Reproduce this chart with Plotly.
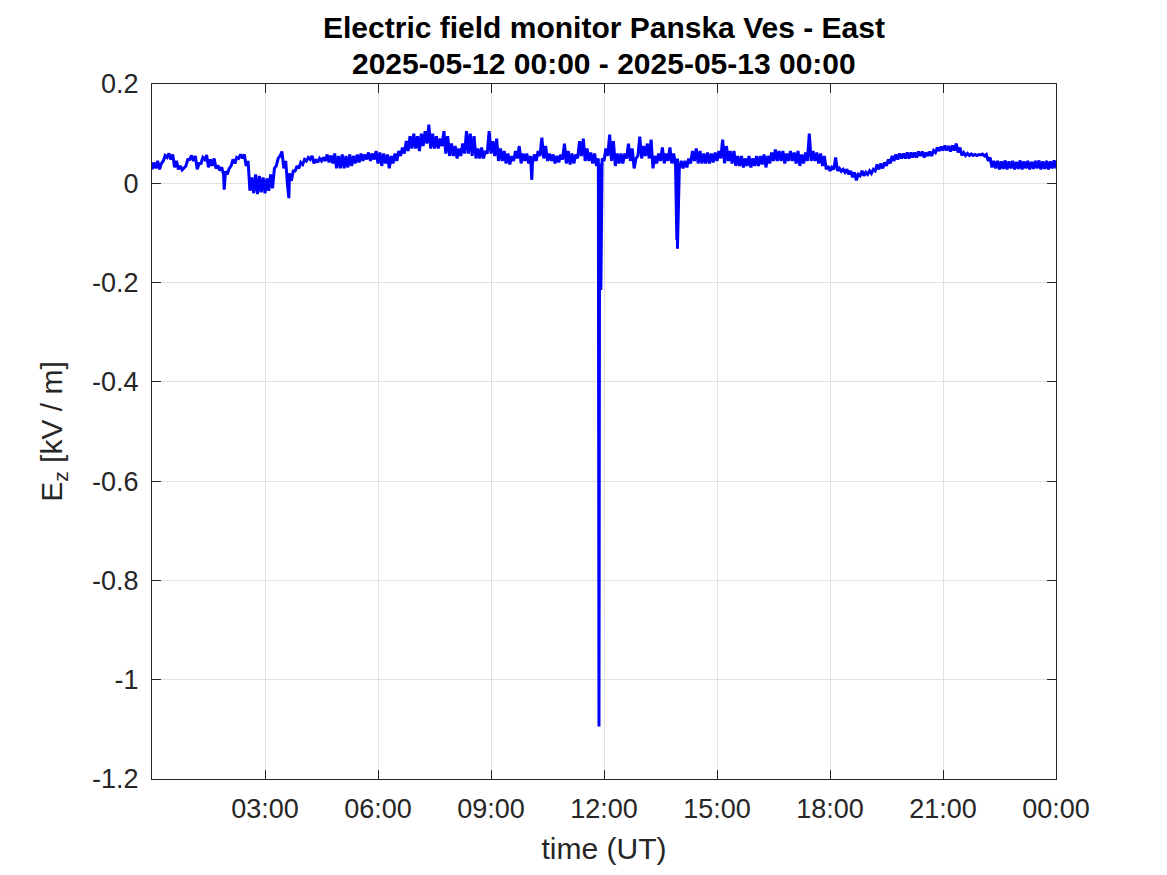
import pandas as pd
import plotly.graph_objects as go

# Field record 2025-05-12, one row per hour, 6-minute samples.
# Each sample is given as its low and high value within the 6 minutes (kV/m).
START = "2025-05-12 00:00"
STEP_MIN = 6
EZ_LO = [
    0.028, 0.030, 0.028, 0.045, 0.052, 0.048, 0.032, 0.028, 0.027, 0.035,   # 00h
    0.048, 0.045, 0.028, 0.040, 0.048, 0.032, 0.035, 0.030, 0.026, 0.018,   # 01h
    0.018, 0.035, 0.040, 0.050, 0.050, 0.035, -0.015, -0.020, -0.022, -0.018,  # 02h
    -0.020, -0.015, -0.010, 0.035, 0.055, 0.030, -0.005, 0.005, 0.025, 0.030,  # 03h
    0.038, 0.045, 0.048, 0.040, 0.042, 0.045, 0.045, 0.042, 0.040, 0.030,   # 04h
    0.030, 0.030, 0.032, 0.035, 0.040, 0.042, 0.045, 0.048, 0.045, 0.048,   # 05h
    0.040, 0.035, 0.040, 0.030, 0.040, 0.045, 0.055, 0.060, 0.065, 0.070,   # 06h
    0.070, 0.065, 0.075, 0.080, 0.070, 0.070, 0.070, 0.075, 0.060, 0.055,   # 07h
    0.055, 0.050, 0.055, 0.060, 0.060, 0.055, 0.050, 0.050, 0.050, 0.060,   # 08h
    0.060, 0.055, 0.045, 0.045, 0.040, 0.038, 0.045, 0.050, 0.040, 0.045,   # 09h
    0.040, 0.040, 0.045, 0.055, 0.050, 0.045, 0.045, 0.040, 0.042, 0.048,   # 10h
    0.040, 0.038, 0.040, 0.050, 0.055, 0.045, 0.045, 0.040, 0.035, 0.030,   # 11h
    0.045, 0.055, 0.045, 0.035, 0.040, 0.040, 0.050, 0.045, 0.030, 0.055,   # 12h
    0.050, 0.055, 0.050, 0.030, 0.040, 0.045, 0.040, 0.045, 0.040, 0.035,   # 13h
    0.030, 0.030, 0.032, 0.040, 0.045, 0.040, 0.040, 0.040, 0.040, 0.042,   # 14h
    0.045, 0.050, 0.040, 0.045, 0.040, 0.035, 0.035, 0.032, 0.035, 0.032,   # 15h
    0.035, 0.035, 0.038, 0.032, 0.040, 0.045, 0.045, 0.045, 0.040, 0.045,   # 16h
    0.045, 0.040, 0.035, 0.040, 0.045, 0.045, 0.045, 0.040, 0.035, 0.028,   # 17h
    0.025, 0.028, 0.025, 0.024, 0.022, 0.018, 0.012, 0.006, 0.015, 0.015,   # 18h
    0.018, 0.020, 0.025, 0.028, 0.030, 0.035, 0.040, 0.045, 0.048, 0.050,   # 19h
    0.050, 0.050, 0.052, 0.052, 0.055, 0.052, 0.055, 0.055, 0.062, 0.065,   # 20h
    0.066, 0.066, 0.064, 0.066, 0.062, 0.056, 0.056, 0.056, 0.056, 0.056,   # 21h
    0.057, 0.055, 0.045, 0.032, 0.030, 0.028, 0.029, 0.028, 0.030, 0.028,   # 22h
    0.029, 0.028, 0.030, 0.028, 0.029, 0.030, 0.028, 0.029, 0.028, 0.030,   # 23h
    0.030,                                                                   # 24h
]
EZ_HI = [
    0.042, 0.045, 0.040, 0.056, 0.060, 0.058, 0.045, 0.035, 0.032, 0.048,   # 00h
    0.056, 0.055, 0.040, 0.052, 0.057, 0.048, 0.050, 0.036, 0.032, 0.024,   # 01h
    0.030, 0.048, 0.052, 0.058, 0.058, 0.045, 0.012, 0.018, 0.015, 0.012,   # 02h
    0.010, 0.018, 0.030, 0.050, 0.064, 0.045, 0.020, 0.025, 0.035, 0.042,   # 03h
    0.048, 0.052, 0.055, 0.048, 0.050, 0.052, 0.058, 0.056, 0.060, 0.055,   # 04h
    0.058, 0.055, 0.058, 0.055, 0.058, 0.060, 0.058, 0.062, 0.060, 0.065,   # 05h
    0.062, 0.060, 0.058, 0.055, 0.060, 0.065, 0.072, 0.085, 0.095, 0.100,   # 06h
    0.095, 0.100, 0.105, 0.118, 0.100, 0.095, 0.090, 0.105, 0.095, 0.080,   # 07h
    0.075, 0.070, 0.080, 0.105, 0.100, 0.095, 0.070, 0.072, 0.065, 0.105,   # 08h
    0.085, 0.090, 0.070, 0.065, 0.060, 0.055, 0.065, 0.075, 0.060, 0.060,   # 09h
    0.055, 0.058, 0.065, 0.092, 0.075, 0.060, 0.058, 0.055, 0.058, 0.080,   # 10h
    0.065, 0.060, 0.058, 0.085, 0.090, 0.070, 0.062, 0.060, 0.050, 0.050,   # 11h
    0.070, 0.098, 0.085, 0.060, 0.060, 0.060, 0.080, 0.070, 0.050, 0.094,   # 12h
    0.075, 0.080, 0.088, 0.055, 0.060, 0.072, 0.060, 0.072, 0.060, 0.050,   # 13h
    0.045, 0.045, 0.050, 0.065, 0.070, 0.065, 0.060, 0.062, 0.060, 0.062,   # 14h
    0.065, 0.088, 0.075, 0.065, 0.065, 0.055, 0.055, 0.050, 0.055, 0.050,   # 15h
    0.055, 0.055, 0.058, 0.055, 0.062, 0.068, 0.065, 0.065, 0.060, 0.065,   # 16h
    0.062, 0.065, 0.058, 0.062, 0.100, 0.065, 0.062, 0.060, 0.055, 0.035,   # 17h
    0.032, 0.052, 0.030, 0.028, 0.028, 0.025, 0.022, 0.018, 0.025, 0.022,   # 18h
    0.025, 0.028, 0.038, 0.040, 0.042, 0.048, 0.055, 0.058, 0.060, 0.060,   # 19h
    0.062, 0.062, 0.062, 0.064, 0.064, 0.062, 0.064, 0.066, 0.072, 0.074,   # 20h
    0.076, 0.075, 0.076, 0.080, 0.072, 0.062, 0.060, 0.059, 0.058, 0.058,   # 21h
    0.059, 0.058, 0.052, 0.045, 0.045, 0.044, 0.046, 0.044, 0.045, 0.043,   # 22h
    0.046, 0.044, 0.045, 0.043, 0.045, 0.046, 0.044, 0.045, 0.044, 0.046,   # 23h
    0.046,                                                                   # 24h
]

# Short transient excursions (time, kV/m)
SPIKE_TIMES = ["2025-05-12 01:55", "2025-05-12 03:38", "2025-05-12 10:05",
               "2025-05-12 11:52", "2025-05-12 11:53", "2025-05-12 11:55",
               "2025-05-12 11:56", "2025-05-12 13:56", "2025-05-12 13:57"]
SPIKE_VALUES = [-0.013, -0.030, 0.007,
                -1.094, 0.040, -0.215,
                0.045, -0.114, -0.132]

XTICK_VALS = ["2025-05-12 03:00", "2025-05-12 06:00", "2025-05-12 09:00",
              "2025-05-12 12:00", "2025-05-12 15:00", "2025-05-12 18:00",
              "2025-05-12 21:00", "2025-05-13 00:00"]
XTICK_TEXT = ["03:00", "06:00", "09:00", "12:00", "15:00", "18:00", "21:00", "00:00"]
YTICK_VALS = [-1.2, -1.0, -0.8, -0.6, -0.4, -0.2, 0.0, 0.2]
YTICK_TEXT = ["-1.2", "-1", "-0.8", "-0.6", "-0.4", "-0.2", "0", "0.2"]
TITLE_LINES = ["Electric field monitor Panska Ves - East",
               "2025-05-12 00:00 - 2025-05-13 00:00"]

t0 = pd.date_range(START, periods=len(EZ_LO), freq=f"{STEP_MIN}min")
lo = pd.DataFrame({"t": t0, "ez": EZ_LO})
hi = pd.DataFrame({"t": t0 + pd.Timedelta(minutes=STEP_MIN / 2), "ez": EZ_HI})
hi = hi[hi["t"] <= pd.Timestamp("2025-05-13 00:00")]
spk = pd.DataFrame({"t": pd.to_datetime(SPIKE_TIMES), "ez": SPIKE_VALUES})
df = pd.concat([lo, hi, spk]).sort_values("t", kind="stable")

fig = go.Figure()
fig.add_trace(go.Scatter(
    x=df["t"], y=df["ez"], mode="lines",
    line=dict(color="#0000ff", width=3),
    showlegend=False,
))

axis_col = "#262626"
grid_col = "#e0e0e0"
FONT = "Liberation Sans, Arial, sans-serif"
fig.update_layout(
    width=1167, height=875,
    margin=dict(l=144, r=119, t=76, b=104),
    paper_bgcolor="white", plot_bgcolor="white",
    font=dict(family=FONT, color=axis_col, size=27),
)
for txt, yy in zip(TITLE_LINES, [1.082, 1.030]):
    fig.add_annotation(
        text=f"<b>{txt}</b>", xref="paper", yref="paper", x=0.5, y=yy,
        xanchor="center", yanchor="middle", showarrow=False,
        font=dict(family=FONT, size=30, color="black"),
    )
fig.update_xaxes(
    range=["2025-05-12 00:00", "2025-05-13 00:00"],
    tickvals=XTICK_VALS, ticktext=XTICK_TEXT,
    showgrid=True, gridcolor=grid_col, gridwidth=1,
    showline=True, linecolor=axis_col, linewidth=1, mirror="ticks",
    ticks="inside", ticklen=9, tickcolor=axis_col,
    tickfont=dict(size=27, color=axis_col), ticklabelstandoff=6,
    title=dict(text="time (UT)", font=dict(size=30, color=axis_col), standoff=14),
    zeroline=False,
)
fig.update_yaxes(
    range=[-1.2, 0.2],
    tickvals=YTICK_VALS, ticktext=YTICK_TEXT,
    showgrid=True, gridcolor=grid_col, gridwidth=1,
    showline=True, linecolor=axis_col, linewidth=1, mirror="ticks",
    ticks="inside", ticklen=9, tickcolor=axis_col,
    tickfont=dict(size=27, color=axis_col), ticklabelstandoff=7,
    title=dict(text="E<sub>z</sub> [kV / m]", font=dict(size=30, color=axis_col), standoff=20),
    zeroline=False,
)

fig.write_html("out.html")
